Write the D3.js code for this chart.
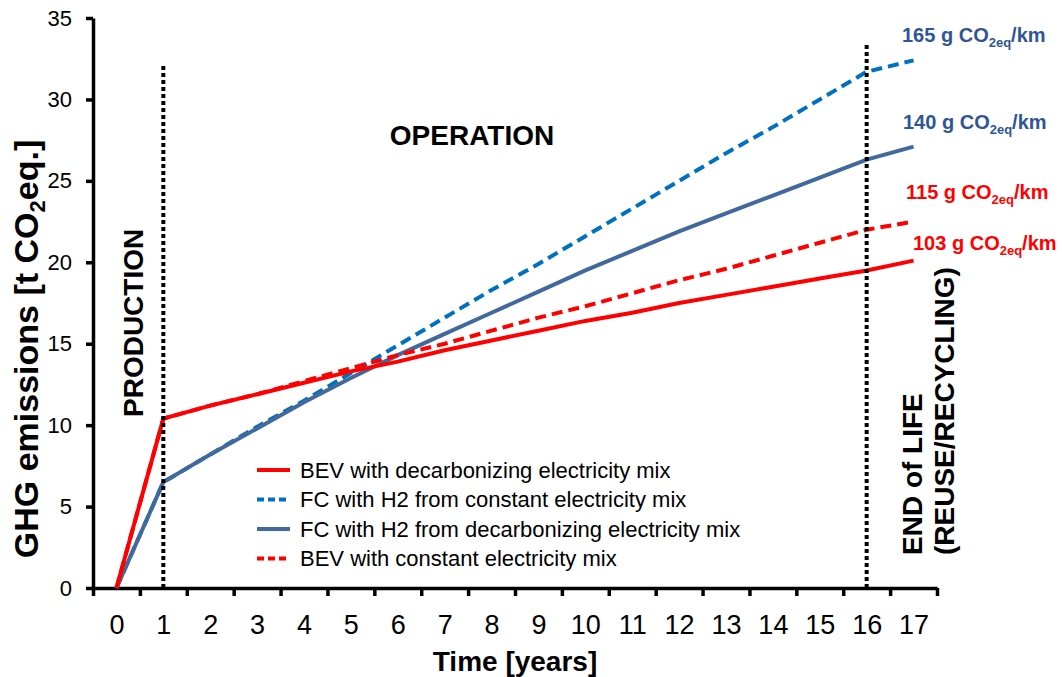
<!DOCTYPE html>
<html lang="en">
<head>
    <meta charset="UTF-8">
    <title>GHG emissions over vehicle lifetime</title>
    <script src="https://d3js.org/d3.v7.min.js"></script>
    <style>
        body {
            margin: 0;
            background: #fff;
            font-family: Arial, "Liberation Sans", sans-serif;
        }
        .axis path, .axis line {
            stroke: #000;
            stroke-width: 3.5px;
        }
        .series {
            fill: none;
            stroke-width: 4px;
        }
        .note {
            font-weight: bold;
            font-size: 28px;
            fill: #000;
        }
    </style>
</head>
<body>
    <svg width="1062" height="677"></svg>

    <script>
        // values, one per year 0..17
        const years = d3.range(0, 18);
        const bevDecarb = [0, 10.4, 11.2, 11.9, 12.6, 13.3, 13.9, 14.6, 15.2, 15.8, 16.4, 16.9, 17.5, 18.0, 18.5, 19.0, 19.5, 20.1];
        const fcConst   = [0, 6.5, 8.2, 9.9, 11.5, 13.2, 14.9, 16.6, 18.3, 19.9, 21.6, 23.3, 25.0, 26.7, 28.3, 30.0, 31.7, 32.4];
        const fcDecarb  = [0, 6.5, 8.2, 9.8, 11.4, 12.9, 14.3, 15.6, 16.9, 18.2, 19.5, 20.7, 21.9, 23.0, 24.1, 25.2, 26.3, 27.1];
        const bevConst  = [0, 10.4, 11.2, 11.9, 12.7, 13.5, 14.3, 15.0, 15.8, 16.6, 17.3, 18.1, 18.9, 19.6, 20.4, 21.2, 22.0, 22.5];
        const yTicks = [0, 5, 10, 15, 20, 25, 30, 35];

        const seriesNames = [
            "BEV with decarbonizing electricity mix",
            "FC with H2 from constant electricity mix",
            "FC with H2 from decarbonizing electricity mix",
            "BEV with constant electricity mix"
        ];
        const endLabels = ["103", "165", "140", "115"];

        const series = [
            { name: seriesNames[0], values: bevDecarb, color: "#ff0000", dash: null, label: endLabels[0], labelColor: "#ff0000", lx: 913, ly: 250 },
            { name: seriesNames[1], values: fcConst, color: "#0070c0", dash: "11,6", label: endLabels[1], labelColor: "#2f5597", lx: 902, ly: 42 },
            { name: seriesNames[2], values: fcDecarb, color: "#41699c", dash: null, label: endLabels[2], labelColor: "#2f5597", lx: 903, ly: 129 },
            { name: seriesNames[3], values: bevConst, color: "#ff0000", dash: "11,6", label: endLabels[3], labelColor: "#ff0000", lx: 906, ly: 199 }
        ];

        const svg = d3.select("svg");

        const x = d3.scaleLinear().domain([-0.5, 17.5]).range([93, 937]);
        const y = d3.scaleLinear().domain([0, 35]).range([588, 18]);

        // y axis
        const yAxis = svg.append("g")
            .attr("class", "axis")
            .attr("transform", `translate(${x(-0.5)},0)`)
            .call(d3.axisLeft(y).tickValues(yTicks).tickSize(7).tickSizeOuter(0).tickPadding(14));
        yAxis.selectAll("text")
            .style("font-size", "22px")
            .style("font-family", "Arial, 'Liberation Sans', sans-serif")
            .attr("fill", "#000");

        // x axis: tick marks at category edges, labels at centres
        svg.append("g")
            .attr("class", "axis")
            .attr("transform", `translate(0,${y(0)})`)
            .call(d3.axisBottom(x).tickValues(d3.range(-0.5, 18, 1)).tickSize(8).tickSizeOuter(0).tickFormat(""));

        const xLabels = svg.append("g")
            .attr("transform", `translate(0,${y(0)})`)
            .call(d3.axisBottom(x).tickValues(years).tickSize(0).tickPadding(27).tickFormat(d3.format("d")));
        xLabels.select(".domain").remove();
        xLabels.selectAll("text")
            .style("font-size", "27px")
            .style("font-family", "Arial, 'Liberation Sans', sans-serif")
            .attr("fill", "#000");

        // axis titles
        svg.append("text")
            .attr("x", x(8.5))
            .attr("y", 671)
            .attr("text-anchor", "middle")
            .style("font-size", "28px")
            .style("font-weight", "bold")
            .text("Time [years]");

        const yTitle = svg.append("text")
            .attr("transform", "translate(38,349) rotate(-90)")
            .attr("text-anchor", "middle")
            .style("font-size", "34px")
            .style("font-weight", "bold");
        yTitle.append("tspan").text("GHG emissions [t CO");
        yTitle.append("tspan").attr("dy", 7).style("font-size", "22px").text("2");
        yTitle.append("tspan").attr("dy", -7).text("eq.]");

        // series lines
        const line = d3.line()
            .x((d, i) => x(years[i]))
            .y(d => y(d));

        svg.selectAll(".series")
            .data([series[1], series[2], series[3], series[0]])
            .enter().append("path")
            .attr("class", "series")
            .attr("stroke", d => d.color)
            .attr("stroke-dasharray", d => d.dash)
            .attr("d", d => line(d.values));

        // phase markers
        const phases = [
            { year: 1, top: 32.2 },
            { year: 16, top: 33.5 }
        ];
        svg.selectAll(".phase")
            .data(phases)
            .enter().append("line")
            .attr("class", "phase")
            .attr("x1", d => x(d.year))
            .attr("x2", d => x(d.year))
            .attr("y1", y(0))
            .attr("y2", d => y(d.top))
            .attr("stroke", "#000")
            .attr("stroke-width", 4)
            .attr("stroke-dasharray", "4,3");

        svg.append("text")
            .attr("class", "note")
            .attr("transform", "translate(143,417) rotate(-90)")
            .text("PRODUCTION");

        svg.append("text")
            .attr("class", "note")
            .attr("x", 472)
            .attr("y", 145)
            .attr("text-anchor", "middle")
            .text("OPERATION");

        svg.append("text")
            .attr("class", "note")
            .attr("transform", "translate(922,555) rotate(-90)")
            .text("END of LIFE");
        svg.append("text")
            .attr("class", "note")
            .attr("transform", "translate(954,555) rotate(-90)")
            .text("(REUSE/RECYCLING)");

        // end labels (g CO2eq/km)
        series.forEach(s => {
            const t = svg.append("text")
                .attr("x", s.lx)
                .attr("y", s.ly)
                .attr("fill", s.labelColor)
                .style("font-size", "20px")
                .style("font-weight", "bold");
            t.append("tspan").text(`${s.label} g CO`);
            t.append("tspan").attr("dy", 5).style("font-size", "13px").text("2eq");
            t.append("tspan").attr("dy", -5).text("/km");
        });

        // legend
        const legend = svg.append("g").attr("transform", "translate(257,470)");
        const rows = legend.selectAll("g")
            .data(series)
            .enter().append("g")
            .attr("transform", (d, i) => `translate(0,${i * 29.5})`);
        rows.append("line")
            .attr("x1", 0)
            .attr("x2", 33)
            .attr("stroke", d => d.color)
            .attr("stroke-width", 4)
            .attr("stroke-dasharray", d => d.dash ? "7,4" : null);
        rows.append("text")
            .attr("x", 43)
            .attr("dy", "0.36em")
            .style("font-size", "22px")
            .text(d => d.name);
    </script>
</body>
</html>
